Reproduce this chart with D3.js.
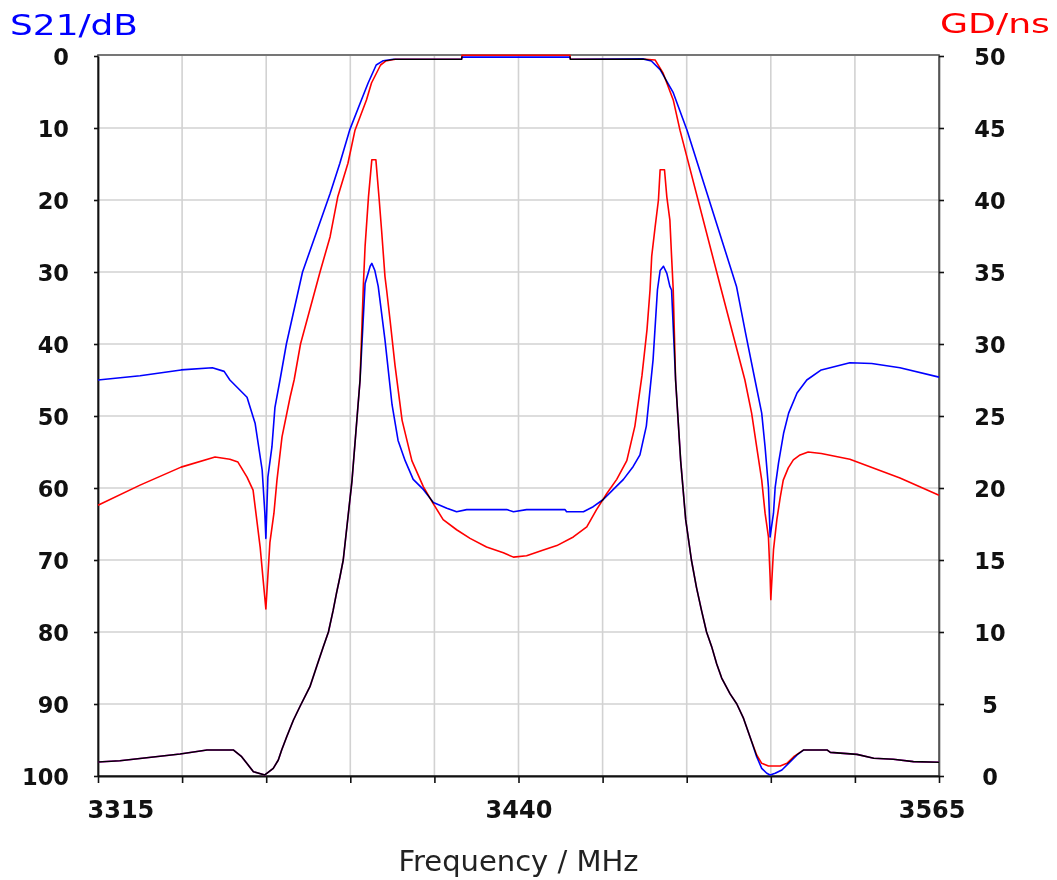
<!DOCTYPE html>
<html>
<head>
<meta charset="utf-8">
<script src="https://cdn.jsdelivr.net/npm/d3@7"></script>
<style>
  html, body { margin: 0; padding: 0; background: #fff; }
  svg { display: block; }
  .traces { isolation: isolate; }
  .trace { fill: none; stroke-width: 1.6; mix-blend-mode: multiply; stroke-linejoin: round; }
  .tick text { font-family: "DejaVu Sans", Verdana, sans-serif; font-weight: bold; fill: #111; }
</style>
</head>
<body>
<svg id="chart" width="1057" height="880"></svg>
<script>
// tick labels
var freqLabels = [3315, 3440, 3565];
var dbTicks = [0, 10, 20, 30, 40, 50, 60, 70, 80, 90, 100];
var gdTicks = [0, 5, 10, 15, 20, 25, 30, 35, 40, 45, 50];

// S21, blue trace
var s21BlueF = [3315, 3327.5, 3339.7, 3349, 3352.5, 3354.2, 3359.3, 3361.7, 3363.8, 3364.6, 3364.9, 3365.5, 3366.7, 3367.6, 3369.1, 3371.0, 3375.8, 3384, 3386.9, 3389.8, 3393.3, 3395.3, 3397.7, 3399.8, 3402.8, 3423.1, 3423.2, 3455.3, 3455.4, 3477, 3479.5, 3482.1, 3486, 3490.1, 3504.8, 3507.5, 3510.3, 3512.3, 3513.3, 3514.3, 3514.8, 3515.8, 3516.3, 3517.3, 3518.8, 3520.3, 3522.8, 3525.7, 3530, 3538.5, 3545, 3553.4, 3565];
var s21BlueDb = [45.0, 44.4, 43.6, 43.3, 43.8, 45.0, 47.4, 51, 57.5, 63.5, 67, 58.5, 54.3, 48.8, 45, 40, 30, 19.1, 14.9, 10.3, 6.1, 3.75, 1.25, 0.65, 0.45, 0.45, 0.15, 0.15, 0.45, 0.4, 0.7, 1.9, 5.1, 10.3, 32, 38.5, 45, 49.6, 54.3, 59.9, 66.8, 63.5, 59.9, 56.5, 52.4, 49.6, 46.8, 45, 43.6, 42.6, 42.7, 43.3, 44.6];

// S21, red trace
var s21RedF = [3315, 3327.5, 3339.7, 3349.8, 3354.2, 3356.6, 3359.3, 3361.1, 3363.2, 3364.1, 3364.9, 3366.1, 3367.3, 3368.2, 3369.7, 3372.1, 3373.3, 3375.2, 3381, 3384, 3386.3, 3389.3, 3391.4, 3394.8, 3396.3, 3399, 3400.5, 3403.4, 3423.1, 3423.2, 3455.3, 3455.4, 3477.8, 3480.6, 3483, 3486, 3488, 3500.3, 3507.3, 3509.3, 3510.8, 3512.3, 3513.3, 3514.3, 3514.8, 3515.0, 3515.8, 3516.8, 3517.8, 3518.7, 3520.2, 3521.7, 3523.7, 3526.1, 3530, 3538.5, 3553.4, 3565];
var s21RedDb = [62.4, 59.6, 57.1, 55.7, 56, 56.4, 58.5, 60.3, 68.2, 72.8, 76.8, 67.6, 63.5, 58.9, 52.9, 47.4, 45, 40, 30, 25.1, 19.5, 14.9, 10.3, 6.1, 3.75, 1.25, 0.7, 0.45, 0.45, -0.1, -0.1, 0.45, 0.45, 0.55, 2.4, 6.1, 10.3, 32.5, 45, 49.6, 54.3, 58.9, 63.5, 66.8, 72.4, 75.5, 68.6, 64.4, 61.3, 58.9, 57.2, 56.1, 55.4, 55, 55.2, 56, 58.6, 61];

// group delay, blue trace
var gdBlueF = [3315, 3321.5, 3339.4, 3347.4, 3355.2, 3357.7, 3361.2, 3364.6, 3367.1, 3368.6, 3369.6, 3371.1, 3373.1, 3375.0, 3378.0, 3380.0, 3382.0, 3383.5, 3384.9, 3385.9, 3386.9, 3387.9, 3390.5, 3392.9, 3394.4, 3395.9, 3396.4, 3397.3, 3398.3, 3400.3, 3402.4, 3404.2, 3406.3, 3408.7, 3411.7, 3414.7, 3418.7, 3421.6, 3424.6, 3436.5, 3438.5, 3442.4, 3453.8, 3454.3, 3459.3, 3462.2, 3465.2, 3468.2, 3471.2, 3474.1, 3476.1, 3478.0, 3480.0, 3481.3, 3482.1, 3483.1, 3484.1, 3485.0, 3485.5, 3486.7, 3488.2, 3489.7, 3491.4, 3492.9, 3494.4, 3495.9, 3497.4, 3498.9, 3500.4, 3502.9, 3504.9, 3506.9, 3509.3, 3510.8, 3512.3, 3513.8, 3514.8, 3516.3, 3518.3, 3520.8, 3522.8, 3524.8, 3531.7, 3532.7, 3540.6, 3545.6, 3551.4, 3557.4, 3565];
var gdBlueNs = [0.97, 1.06, 1.53, 1.81, 1.81, 1.34, 0.3, 0.07, 0.53, 1.11, 1.81, 2.73, 3.89, 4.81, 6.2, 7.6, 9.0, 10.0, 11.5, 12.7, 13.8, 15.0, 20.5, 27.5, 34.2, 35.4, 35.6, 35.1, 34.0, 30.3, 25.8, 23.3, 21.9, 20.6, 19.9, 19.0, 18.6, 18.35, 18.5, 18.5, 18.35, 18.5, 18.5, 18.35, 18.35, 18.7, 19.2, 19.9, 20.6, 21.5, 22.3, 24.3, 28.9, 33.75, 35.1, 35.4, 34.9, 34.0, 33.75, 27.5, 21.9, 17.8, 15.0, 13.1, 11.5, 10.0, 9.0, 7.8, 6.8, 5.7, 5.0, 4.0, 2.4, 1.34, 0.53, 0.19, 0.07, 0.19, 0.42, 1.0, 1.46, 1.81, 1.81, 1.64, 1.5, 1.23, 1.16, 1.0, 0.95];

// group delay, red trace
var gdRedF = [3315, 3321.5, 3339.4, 3347.4, 3355.2, 3357.7, 3361.2, 3364.6, 3367.1, 3368.6, 3369.6, 3371.1, 3373.1, 3375.0, 3378.0, 3380.0, 3382.0, 3383.5, 3384.9, 3385.9, 3386.9, 3387.9, 3390.5, 3392.9, 3393.9, 3394.4, 3395.4, 3396.4, 3397.6, 3398.6, 3399.3, 3400.3, 3400.8, 3401.8, 3403.3, 3405.4, 3408.3, 3411.7, 3414.7, 3417.6, 3421.6, 3425.6, 3430.5, 3435.5, 3438.5, 3442.4, 3447.4, 3451.4, 3456.3, 3460.3, 3463.2, 3466.2, 3469.2, 3472.2, 3474.6, 3476.7, 3478.2, 3479.1, 3479.6, 3480.6, 3481.6, 3482.1, 3483.4, 3484.1, 3485.0, 3485.5, 3486.0, 3486.7, 3488.2, 3489.7, 3491.4, 3492.9, 3494.4, 3495.9, 3497.4, 3498.9, 3500.4, 3502.9, 3504.9, 3506.9, 3509.3, 3510.8, 3512.3, 3514.3, 3517.8, 3519.8, 3521.8, 3524.8, 3531.7, 3532.7, 3540.6, 3545.6, 3551.4, 3557.4, 3565];
var gdRedNs = [0.97, 1.06, 1.53, 1.81, 1.81, 1.34, 0.3, 0.07, 0.53, 1.11, 1.81, 2.73, 3.89, 4.81, 6.2, 7.6, 9.0, 10.0, 11.5, 12.7, 13.8, 15.0, 20.5, 27.5, 34.2, 36.8, 40.2, 42.8, 42.8, 40.0, 37.9, 34.7, 33.75, 31.7, 28.5, 24.7, 21.9, 20.1, 18.9, 17.8, 17.1, 16.5, 15.9, 15.5, 15.2, 15.3, 15.7, 16.0, 16.6, 17.3, 18.5, 19.6, 20.6, 21.9, 24.3, 27.8, 31.0, 33.75, 36.1, 38.1, 40.0, 42.1, 42.1, 40.2, 38.6, 36.1, 33.75, 27.5, 21.9, 17.8, 15.0, 13.1, 11.5, 10.0, 9.0, 7.8, 6.8, 5.7, 5.0, 4.0, 2.4, 1.46, 0.88, 0.69, 0.69, 0.88, 1.34, 1.81, 1.81, 1.64, 1.5, 1.23, 1.16, 1.0, 0.95];

(function () {
  var svg = d3.select("#chart");
  var plotL = 98, plotR = 939, plotT = 56, plotB = 776;

  var x = d3.scaleLinear().domain([3315, 3565]).range([plotL, plotR]);
  var yDb = d3.scaleLinear().domain([0, 100]).range([plotT, plotB]);
  var yGd = d3.scaleLinear().domain([0, 50]).range([plotB, plotT]);
  var gridFreqs = d3.range(3315, 3566, 25);

  // grid
  var grid = svg.append("g").attr("stroke", "#d2d2d2").attr("stroke-width", 1.6);
  grid.selectAll("line.v").data(gridFreqs.slice(1, -1)).enter().append("line")
    .attr("x1", function (d) { return x(d); }).attr("x2", function (d) { return x(d); })
    .attr("y1", plotT).attr("y2", plotB);
  grid.selectAll("line.h").data(dbTicks.slice(1, -1)).enter().append("line")
    .attr("x1", plotL).attr("x2", plotR)
    .attr("y1", function (d) { return yDb(d); }).attr("y2", function (d) { return yDb(d); });

  // frame
  svg.append("rect").attr("x", plotL).attr("y", plotT - 1).attr("width", plotR - plotL).attr("height", plotB - plotT + 1)
    .attr("fill", "none").attr("stroke", "#555").attr("stroke-width", 1.6);

  // axes
  var axL = svg.append("g").attr("transform", "translate(" + plotL + ",0)")
    .call(d3.axisLeft(yDb).tickValues(dbTicks).tickSize(4).tickSizeOuter(0).tickPadding(25));
  var axR = svg.append("g").attr("transform", "translate(" + plotR + ",0)")
    .call(d3.axisRight(yGd).tickValues(gdTicks).tickSize(5).tickSizeOuter(0).tickPadding(36));
  var axB = svg.append("g").attr("transform", "translate(0," + plotB + ")")
    .call(d3.axisBottom(x).tickValues(gridFreqs).tickSize(7).tickSizeOuter(0).tickPadding(18)
      .tickFormat(function (d) { return freqLabels.indexOf(d) >= 0 ? d : ""; }));

  [axL, axB].forEach(function (a) {
    a.select(".domain").attr("stroke", "#111").attr("stroke-width", 1.8);
  });
  axR.select(".domain").attr("stroke", "#555").attr("stroke-width", 1.6);
  [axL, axR, axB].forEach(function (a) {
    a.selectAll(".tick line").attr("stroke", "#111").attr("stroke-width", 1.6);
  });
  axL.selectAll(".tick text").attr("font-size", 22.5).attr("dy", "0.38em");
  axR.selectAll(".tick text").attr("font-size", 22.5).attr("dy", "0.38em")
    .attr("text-anchor", "middle").attr("x", 51);
  axB.selectAll(".tick text").attr("font-size", 24).attr("dy", "0.71em")
    .attr("text-anchor", function (d) { return d === freqLabels[0] ? "start" : d === freqLabels[2] ? "end" : "middle"; })
    .attr("x", function (d) { return d === freqLabels[0] ? -11 : d === freqLabels[2] ? 26 : 0; });

  // traces: red over blue multiplies to black, as in the reference
  var lineDb = d3.line().x(function (d) { return x(d[0]); }).y(function (d) { return yDb(d[1]); });
  var lineGd = d3.line().x(function (d) { return x(d[0]); }).y(function (d) { return yGd(d[1]); });
  var traces = svg.append("g").attr("class", "traces");

  traces.append("path").attr("class", "trace").attr("stroke", "#0000ff").attr("d", lineDb(d3.zip(s21BlueF, s21BlueDb)));
  traces.append("path").attr("class", "trace").attr("stroke", "#ff0000").attr("d", lineDb(d3.zip(s21RedF, s21RedDb)));
  traces.append("path").attr("class", "trace").attr("stroke", "#0000ff").attr("d", lineGd(d3.zip(gdBlueF, gdBlueNs)));
  traces.append("path").attr("class", "trace").attr("stroke", "#ff0000").attr("d", lineGd(d3.zip(gdRedF, gdRedNs)));

  // titles
  svg.append("text").attr("x", 10).attr("y", 35).attr("fill", "#0000ff")
    .attr("font-family", "DejaVu Sans, Verdana, sans-serif").attr("font-size", 28)
    .attr("textLength", 128).attr("lengthAdjust", "spacingAndGlyphs").text("S21/dB");
  svg.append("text").attr("x", 940).attr("y", 33).attr("fill", "#ff0000")
    .attr("font-family", "DejaVu Sans, Verdana, sans-serif").attr("font-size", 27)
    .attr("textLength", 110).attr("lengthAdjust", "spacingAndGlyphs").text("GD/ns");
  svg.append("text").attr("x", (plotL + plotR) / 2).attr("y", 871).attr("text-anchor", "middle").attr("fill", "#222")
    .attr("font-family", "DejaVu Sans, Verdana, sans-serif").attr("font-size", 29)
    .text("Frequency / MHz");
})();
</script>
</body>
</html>
